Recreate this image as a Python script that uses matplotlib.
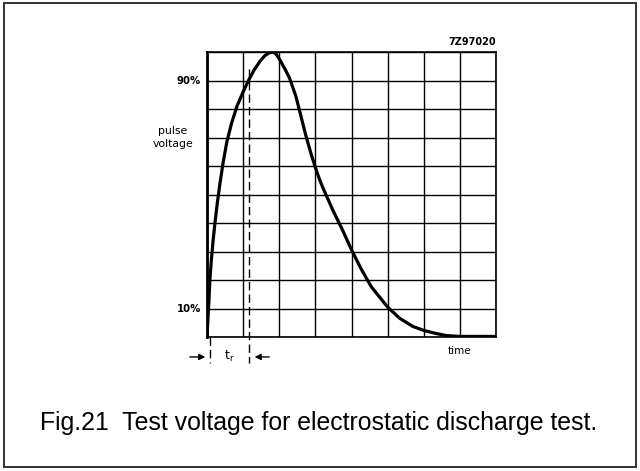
import matplotlib
matplotlib.use("Agg")
import matplotlib.pyplot as plt
from matplotlib.patches import Rectangle

# ---- data (time in grid divisions, voltage in % of peak) ----
time = [0, 0.02, 0.05, 0.08, 0.12, 0.17, 0.22, 0.29, 0.36, 0.45, 0.55, 0.68,
        0.83, 1.0, 1.14, 1.30, 1.47, 1.60, 1.72, 1.82, 1.91, 2.0, 2.15, 2.28,
        2.46, 2.60, 2.74, 2.88, 3.0, 3.1, 3.2, 3.48, 3.76, 4.0, 4.27, 4.55,
        5.0, 5.33, 5.7, 6.0, 6.35, 6.63, 7.0, 7.95]
voltage = [0, 5, 12, 20, 27, 34, 40, 47.5, 54, 61.5, 68.5, 75,
           81, 86, 89.8, 93.6, 96.8, 98.7, 99.7, 100, 99.3, 97.6, 94.2, 91,
           84.5, 77.5, 70.5, 64.3, 59.5, 55.8, 52.6, 44.6, 37.3, 30.6, 23.8, 17.6,
           10.5, 6.6, 3.7, 2.3, 1.2, 0.5, 0.2, 0.2]
x_divisions = [0, 1, 2, 3, 4, 5, 6, 7, 8]
y_divisions = [0, 10, 20, 30, 40, 50, 60, 70, 80, 90, 100]
t10 = 0.08   # 10 % crossing
t90 = 1.16   # 90 % crossing
level_labels = ["10%", "90%"]
level_values = [10, 90]

W, H = 640, 471
fig = plt.figure(figsize=(W / 100, H / 100), dpi=100)

# outer frame
frame = fig.add_axes([0, 0, 1, 1])
frame.set_xlim(0, W)
frame.set_ylim(H, 0)
frame.axis("off")
frame.add_patch(Rectangle((4, 3), 632, 464, fill=False, lw=1.3, edgecolor="#222222"))
frame.text(319, 423, "Fig.21  Test voltage for electrostatic discharge test.",
           ha="center", va="center", fontsize=17.9, family="Liberation Sans")

# chart axes
left, right, top, bottom = 207, 496, 52, 337
ax = fig.add_axes([left / W, 1 - bottom / H, (right - left) / W, (bottom - top) / H])
ax.set_xlim(0, 8)
ax.set_ylim(0, 100)
ax.set_xticks(x_divisions)
ax.set_yticks(y_divisions)
ax.tick_params(length=0, labelbottom=False, labelleft=False)
ax.grid(True, color="black", lw=1.0)
for s in ax.spines.values():
    s.set_linewidth(1.2)
ax.spines["left"].set_linewidth(2.0)

ax.plot(time, voltage, color="black", lw=2.3, solid_capstyle="round",
        solid_joinstyle="round", zorder=5)

# dashed markers for rise time
ax.plot([t90, t90], [94, -9], color="black", lw=1.0, ls=(0, (6, 3)), clip_on=False)
ax.plot([t10, t10], [0, -9], color="black", lw=1.0, ls=(0, (6, 3)), clip_on=False)
ax.annotate("", xy=(t10 - 0.05, -7), xytext=(-0.55, -7), annotation_clip=False,
            arrowprops=dict(arrowstyle="-|>", color="black", lw=1.0, mutation_scale=9))
ax.annotate("", xy=(t90 + 0.08, -7), xytext=(1.8, -7), annotation_clip=False,
            arrowprops=dict(arrowstyle="-|>", color="black", lw=1.0, mutation_scale=9))
ax.text((t10 + t90) / 2, -7, "t$_\\mathregular{r}$", ha="center", va="center", fontsize=9,
        family="DejaVu Sans")

# labels
for lab, val in zip(level_labels, level_values):
    ax.text(-0.17, val, lab, ha="right", va="center", fontsize=7.3, fontweight="bold",
            family="DejaVu Sans")
ax.text(-0.95, 70, "pulse\nvoltage", ha="center", va="center", fontsize=7.8,
        family="DejaVu Sans", linespacing=1.45)
ax.text(7.0, -5, "time", ha="center", va="center", fontsize=7.5, family="DejaVu Sans")
ax.text(8.0, 101.8, "7Z97020", ha="right", va="bottom", fontsize=7, fontweight="bold",
        family="DejaVu Sans")

fig.savefig("out.png", dpi=100)
